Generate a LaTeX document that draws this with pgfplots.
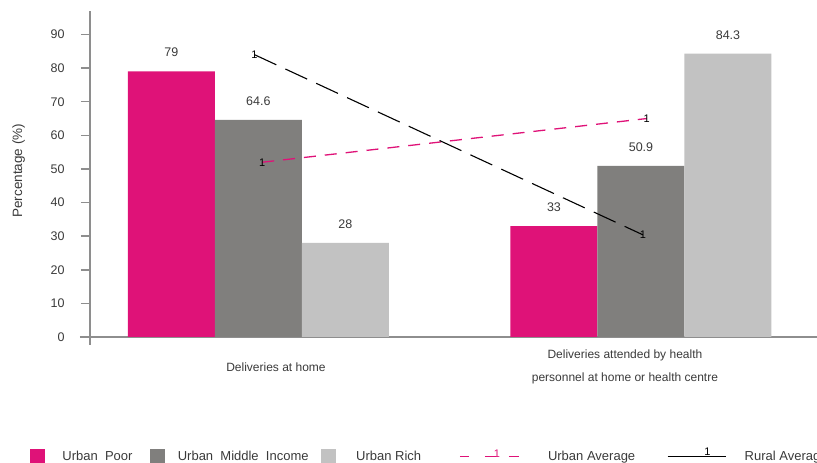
\documentclass[border=0pt]{standalone}
\usepackage{pgfplots}
\pgfplotsset{compat=1.18}
\usepackage{fontspec}
\setmainfont{Liberation Sans}
\definecolor{upoor}{HTML}{DF1278}
\definecolor{umid}{HTML}{807F7D}
\definecolor{urich}{HTML}{C2C2C2}
\definecolor{axgray}{HTML}{8E8E8E}
\definecolor{txt}{HTML}{3A3A3A}
\pgfplotsset{/pgf/number format/assume math mode=true}
\begin{document}
\begin{tikzpicture}[x=1pt,y=1pt]
\useasboundingbox (0,0) rectangle (817,463);
\begin{axis}[
  at={(90pt,126pt)}, anchor=south west,
  scale only axis, width=727pt, height=326pt,
  xmin=-0.44, xmax=1.46, ymin=0, ymax=97,
  axis lines*=left,
  x axis line style={axgray, line width=2.5pt, shorten <=-10pt},
  y axis line style={axgray, line width=2.5pt, shorten <=-8pt},
  ytick={0,10,...,90},
  tick align=outside,
  major tick length=9pt,
  ytick style={axgray, line width=1.5pt},
  xtick style={draw=none},
  yticklabel style={font=\fontsize{12.5}{14}\selectfont, text=txt, xshift=-13pt},
  xtick={0.046,0.958},
  xticklabels={Deliveries at home, {Deliveries attended by health\\personnel at home or health centre}},
  xticklabel style={align=center, anchor=center, font=\fontsize{12}{23}\selectfont, text=txt, yshift=-21pt},
  ylabel={Percentage (\%)},
  ylabel style={at={(axis description cs:-0.098,0.51)}, anchor=center, font=\fontsize{13.5}{16}\selectfont, text=txt},
  legend columns=5,
  legend style={draw=none, fill=none, inner sep=0pt, outer sep=0pt,
    at={(axis description cs:-0.0825,-0.365)}, anchor=west,
    nodes={inner sep=0pt, font=\fontsize{13}{15}\selectfont, text=txt},
    /tikz/every odd column/.style={column sep=0pt},
    /tikz/every even column/.style={column sep=0pt}},
  lbl/.style={nodes near coords, every node near coord/.append style={font=\fontsize{12.5}{14}\selectfont, text=txt, anchor=south, yshift=11pt, xshift=#1}},
]
\addplot[ybar, bar width=87pt, bar shift=-87pt, fill=upoor, draw=none, forget plot, lbl=-87pt] coordinates {(0,79) (1,33)};
\addplot[ybar, bar width=87pt, bar shift=0pt, fill=umid, draw=none, forget plot, lbl=0pt] coordinates {(0,64.6) (1,50.9)};
\addplot[ybar, bar width=87pt, bar shift=87pt, fill=urich, draw=none, forget plot, lbl=87pt] coordinates {(0,28) (1,84.3)};
\addplot[upoor, line width=1.3pt, dash pattern=on 12pt off 9pt, mark=text, text mark={\fontsize{11}{11}\selectfont 1}, mark options={solid, text=upoor}, forget plot] coordinates {(0.01,52) (1.015,65)};
\addplot[black, line width=1.1pt, dash pattern=on 24pt off 10pt, mark=text, text mark={\fontsize{11}{11}\selectfont 1}, mark options={solid, text=black}, forget plot] coordinates {(-0.01,84) (1.005,30.4)};
\addlegendimage{legend image code/.code={\fill[upoor] (0pt,-7pt) rectangle (14pt,7pt); \path (32pt,0pt);}}
\addlegendentry{\makebox[88pt][l]{Urban\ \ Poor}}
\addlegendimage{legend image code/.code={\fill[umid] (0pt,-7pt) rectangle (14pt,7pt); \path (27pt,0pt);}}
\addlegendentry{\makebox[143pt][l]{Urban\ \ Middle\ \ Income}}
\addlegendimage{legend image code/.code={\fill[urich] (0pt,-7pt) rectangle (14pt,7pt); \path (35pt,0pt);}}
\addlegendentry{\makebox[103pt][l]{Urban Rich}}
\addlegendimage{legend image code/.code={\draw[upoor, line width=1.2pt] (0pt,0pt)--(9pt,0pt) (25pt,0pt)--(36pt,0pt) (49pt,0pt)--(59pt,0pt); \node[text=upoor, font=\fontsize{11}{11}\selectfont, inner sep=0pt, anchor=south] at (37pt,-3pt) {1}; \path (88pt,0pt);}}
\addlegendentry{\makebox[119pt][l]{Urban Average}}
\addlegendimage{legend image code/.code={\draw[black, line width=1pt] (0pt,0pt)--(58pt,0pt); \node[text=black, font=\fontsize{11}{11}\selectfont, inner sep=0pt, anchor=south] at (40pt,-1pt) {1}; \path (77pt,0pt);}}
\addlegendentry{Rural Average}
\end{axis}
\end{tikzpicture}
\end{document}
